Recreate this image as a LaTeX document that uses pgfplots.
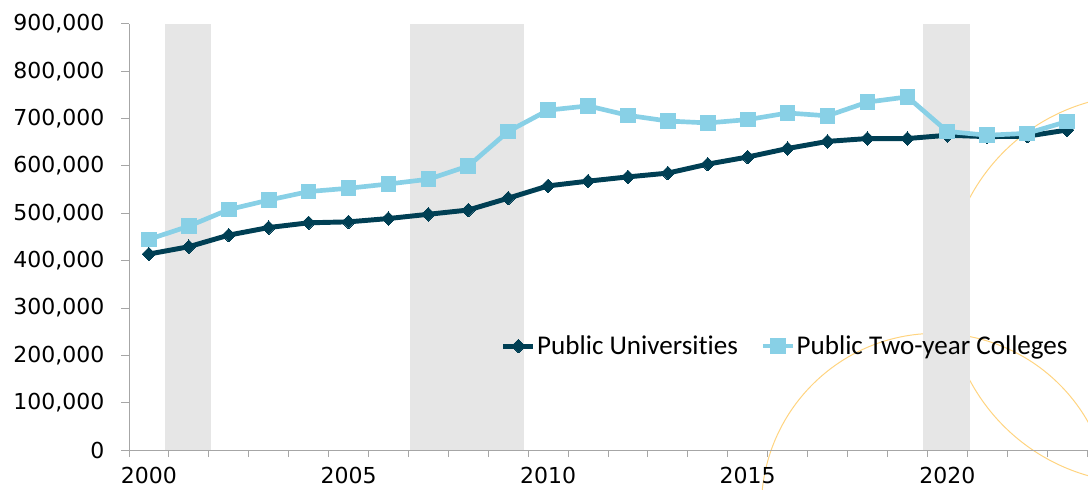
\documentclass[border=0pt]{standalone}
\usepackage{pgfplots}
\pgfplotsset{compat=1.18}
\usepackage{fontspec}
\setmainfont{DejaVu Sans}
\newfontfamily\legfont[Ligatures=NoCommon]{Carlito}
\definecolor{navy}{HTML}{003F54}
\definecolor{lblue}{HTML}{88D0E6}
\definecolor{bandgray}{HTML}{E6E6E6}
\definecolor{circ}{HTML}{FFD480}
\definecolor{axgray}{HTML}{A6A6A6}
\begin{document}
\begin{tikzpicture}
\path[use as bounding box] (0,0) rectangle (816pt,366.75pt);
\begin{scope}
\clip (0,0) rectangle (816pt,366.75pt);
\draw[circ, line width=0.75pt] (702pt,-14.25pt) circle (131pt);
\draw[circ, line width=0.75pt] (855.75pt,150pt) circle (145.5pt);
\end{scope}
\begin{axis}[
  at={(96.75pt,29.25pt)}, anchor=south west,
  scale only axis, width=718.5pt, height=319.5pt,
  xmin=1999.5, xmax=2023.5, ymin=0, ymax=900000,
  axis x line*=bottom, axis y line*=left,
  axis line style={axgray, line width=0.75pt, -},
  tick align=outside,
  xtick={2000,2005,2010,2015,2020},
  xticklabels={2000,2005,2010,2015,2020},
  major x tick style={draw=none},
  minor xtick={1999.5,2000.5,...,2023.5},
  minor x tick style={axgray, line width=0.75pt},
  minor tick length=5.25pt,
  ytick={0,100000,200000,300000,400000,500000,600000,700000,800000,900000},
  yticklabels={0,{100,000},{200,000},{300,000},{400,000},{500,000},{600,000},{700,000},{800,000},{900,000}},
  y tick style={axgray, line width=0.75pt},
  major tick length=6pt,
  scaled y ticks=false,
  tick label style={font=\fontsize{16.5}{18}\selectfont, text=black},
  y tick label style={xshift=-9pt},
  x tick label style={yshift=-3pt},
  clip=false,
  legend columns=2,
  legend cell align=left,
  legend style={draw=none, fill=none, at={(0.3880,0.244)}, anchor=west,
    inner sep=0pt, nodes={inner sep=1pt},
    font=\legfont\fontsize{20.3}{22}\selectfont,
    /tikz/every even column/.append style={column sep=16pt}},
  legend image code/.code={\draw[mark repeat=2,mark phase=2] plot coordinates {(0pt,0pt) (11.25pt,0pt) (22.5pt,0pt)};},
]
\fill[bandgray] (axis cs:2000.4,0) rectangle (axis cs:2001.55,900000);
\fill[bandgray] (axis cs:2006.55,0) rectangle (axis cs:2009.4,900000);
\fill[bandgray] (axis cs:2019.4,0) rectangle (axis cs:2020.57,900000);
\addplot[navy, line width=3.7pt, mark=square*, mark size=3.6pt, mark options={rotate=45, solid, fill=navy, draw=navy, line width=0pt}] coordinates {
(2000,414000) (2001,429500) (2002,454000) (2003,470000) (2004,480000) (2005,482000)
(2006,489000) (2007,498000) (2008,507000) (2009,532000) (2010,558000) (2011,568000)
(2012,577000) (2013,585000) (2014,604000) (2015,619000) (2016,637000) (2017,652000)
(2018,658000) (2019,658000) (2020,665000) (2021,662000) (2022,663000) (2023,676000)};
\addlegendentry{Public Universities}
\addplot[lblue, line width=3.5pt, mark=square*, mark size=5.5pt, mark options={solid, fill=lblue, draw=lblue, line width=0pt}] coordinates {
(2000,445000) (2001,473000) (2002,508000) (2003,528000) (2004,546000) (2005,553000)
(2006,562000) (2007,572000) (2008,600000) (2009,673000) (2010,718000) (2011,727000)
(2012,707000) (2013,695000) (2014,691000) (2015,698000) (2016,712000) (2017,706000)
(2018,735000) (2019,746000) (2020,673000) (2021,665000) (2022,669000) (2023,694000)};
\addlegendentry{Public Two-year Colleges}
\end{axis}
\end{tikzpicture}
\end{document}
